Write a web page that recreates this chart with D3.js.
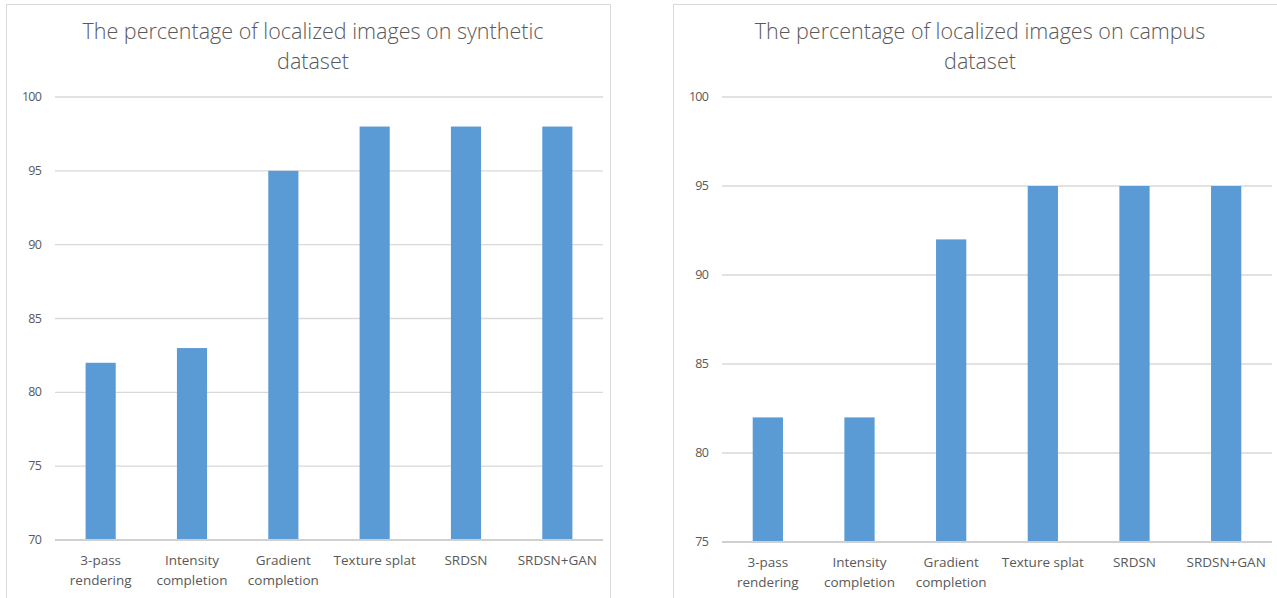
<!DOCTYPE html>
<html><head><meta charset="utf-8">
<script src="https://cdn.jsdelivr.net/npm/d3@7"></script>
<style>body{margin:0;background:#fff}svg{display:block}</style>
</head><body>
<svg id="c" width="1277" height="598"></svg>
<script>
const categories = [["3-pass","rendering"],["Intensity","completion"],["Gradient","completion"],["Texture splat"],["SRDSN"],["SRDSN+GAN"]];
const syntheticValues = [82, 83, 95, 98, 98, 98];
const campusValues = [82, 82, 92, 95, 95, 95];
const syntheticTicks = [70, 75, 80, 85, 90, 95, 100];
const campusTicks = [75, 80, 85, 90, 95, 100];
const titles = [["The percentage of localized images on synthetic","dataset"],["The percentage of localized images on campus","dataset"]];

const svg = d3.select("#c");
const font = "'Open Sans',sans-serif";
const txt = "#595959";

function panel(p) {
  const g = svg.append("g");
  g.append("rect").attr("x", p.bx).attr("y", p.by).attr("width", p.bw).attr("height", p.bh)
    .attr("fill", "#fff").attr("stroke", "#d9d9d9").attr("stroke-width", 1);
  const x = d3.scaleBand().domain(d3.range(categories.length)).range([p.x0, p.x1]).paddingInner(0.67).paddingOuter(0.335);
  const y = d3.scaleLinear().domain([p.ticks[0], p.ticks[p.ticks.length-1]]).range([p.y0, p.y1]);
  g.selectAll(".grid").data(p.ticks).enter().append("line")
    .attr("x1", p.x0).attr("x2", p.x1).attr("y1", d => y(d)).attr("y2", d => y(d))
    .attr("stroke", (d,i) => i === 0 ? "#d0d0d0" : "#d9d9d9").attr("stroke-width", (d,i) => i === 0 ? 2 : 1.3);
  g.selectAll(".tl").data(p.ticks).enter().append("text")
    .attr("x", p.x0 - 14).attr("y", d => y(d) + 4).attr("text-anchor", "end")
    .attr("font-family", font).attr("font-size", 12.5).attr("letter-spacing", -0.8).attr("fill", txt).text(d => d);
  g.selectAll(".bar").data(p.values).enter().append("rect")
    .attr("x", (d,i) => x(i)).attr("width", x.bandwidth())
    .attr("y", d => y(d)).attr("height", d => y(p.ticks[0]) - y(d) - 1)
    .attr("fill", "#5b9bd5");
  const cl = g.selectAll(".cl").data(categories).enter().append("text")
    .attr("x", (d,i) => x(i) + x.bandwidth()/2).attr("y", p.y0 + 25)
    .attr("text-anchor", "middle").attr("font-family", font).attr("font-size", 13.5).attr("fill", txt);
  cl.selectAll("tspan").data(d => d).enter().append("tspan")
    .attr("x", function(){ return this.parentNode.getAttribute("x"); })
    .attr("dy", (d,i) => i === 0 ? 0 : 20).text(d => d);
  const t = g.append("text").attr("x", p.tx).attr("y", 39).attr("text-anchor", "middle")
    .attr("font-family", font).attr("font-weight", 300).attr("font-size", 21.5).attr("fill", txt);
  t.selectAll("tspan").data(p.title).enter().append("tspan").attr("x", p.tx).attr("dy", (d,i) => i === 0 ? 0 : 30).text(d => d);
}

panel({bx: 6.5, by: 4.5, bw: 604, bh: 600, x0: 55, x1: 603, y0: 540, y1: 97, ticks: syntheticTicks, values: syntheticValues, title: titles[0], tx: 313});
panel({bx: 673.5, by: 4.5, bw: 610, bh: 600, x0: 722, x1: 1272, y0: 542, y1: 97, ticks: campusTicks, values: campusValues, title: titles[1], tx: 980});
</script>
</body></html>
